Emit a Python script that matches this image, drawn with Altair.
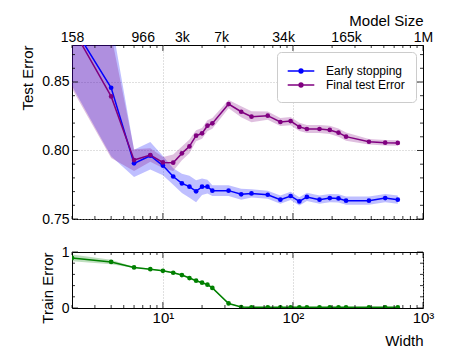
import altair as alt
import pandas as pd

# ---------------- data ----------------
widths = [2, 4, 6, 8, 10, 12, 14, 16, 18, 20, 22, 24, 32, 40, 48, 64, 80, 96,
          112, 128, 160, 192, 224, 256, 384, 512, 640]
early_mean = [0.892, 0.8458, 0.7906, 0.7962, 0.789, 0.781, 0.776, 0.7736, 0.7702,
              0.7736, 0.7736, 0.7707, 0.7707, 0.768, 0.7687, 0.7677, 0.7641, 0.7668,
              0.7628, 0.7661, 0.7641, 0.7653, 0.765, 0.7634, 0.7634, 0.7653, 0.7641]
early_std = [0.045, 0.05, 0.01, 0.01, 0.007, 0.006, 0.007, 0.008, 0.008, 0.006,
             0.005, 0.004, 0.004, 0.004, 0.003, 0.003, 0.003, 0.003, 0.003, 0.003,
             0.003, 0.003, 0.003, 0.003, 0.003, 0.003, 0.003]
final_mean = [0.89, 0.8395, 0.793, 0.7967, 0.7913, 0.7911, 0.7979, 0.803, 0.8108,
              0.8125, 0.8181, 0.8198, 0.8339, 0.8283, 0.8247, 0.8254, 0.8208, 0.8215,
              0.8172, 0.8157, 0.8157, 0.815, 0.813, 0.8101, 0.8064, 0.8057, 0.8055]
final_std = [0.045, 0.045, 0.008, 0.005, 0.004, 0.006, 0.005, 0.005, 0.004, 0.004,
             0.004, 0.004, 0.003, 0.004, 0.004, 0.003, 0.003, 0.003, 0.003, 0.003,
             0.003, 0.003, 0.003, 0.003, 0.002, 0.002, 0.002]
train_mean = [0.894, 0.823, 0.724, 0.694, 0.664, 0.629, 0.588, 0.535, 0.488, 0.452,
              0.417, 0.359, 0.081, 0.018, 0.012, 0.012, 0.012, 0.012, 0.012, 0.012,
              0.012, 0.012, 0.012, 0.012, 0.012, 0.012, 0.012]
train_std = [0.06, 0.04, 0.01, 0.01, 0.01, 0.01, 0.01, 0.01, 0.01, 0.01, 0.01, 0.01,
             0.01, 0.005, 0.003, 0.003, 0.003, 0.003, 0.003, 0.003, 0.003, 0.003,
             0.003, 0.003, 0.003, 0.003, 0.003]

series_names = ["Early stopping", "Final test Error"]
series_colors = ["#0000ff", "#800080"]
train_color = "#008000"

size_tick_pos = [2, 7, 14, 28, 84, 256, 1000]
size_tick_labels = ["158", "966", "3k", "7k", "34k", "165k", "1M"]
width_tick_pos = [10, 100, 1000]
width_tick_labels = ["10¹", "10²", "10³"]
x_major = [10, 100, 1000]
x_minor = [2, 3, 4, 5, 6, 7, 8, 9, 20, 30, 40, 50, 60, 70, 80, 90,
           200, 300, 400, 500, 600, 700, 800, 900]
test_y_major = [0.75, 0.80, 0.85]
test_y_minor = [0.76, 0.77, 0.78, 0.79, 0.81, 0.82, 0.83, 0.84, 0.86, 0.87]
train_y_major = [0, 1]
train_y_minor = [0.2, 0.4, 0.6, 0.8]

# ---------------- tables ----------------
test_df = pd.concat([
    pd.DataFrame({"w": widths, "series": series_names[0], "m": early_mean,
                  "lo": [a - b for a, b in zip(early_mean, early_std)],
                  "hi": [a + b for a, b in zip(early_mean, early_std)]}),
    pd.DataFrame({"w": widths, "series": series_names[1], "m": final_mean,
                  "lo": [a - b for a, b in zip(final_mean, final_std)],
                  "hi": [a + b for a, b in zip(final_mean, final_std)]}),
])
train_df = pd.DataFrame({"w": widths, "m": train_mean,
                         "lo": [a - b for a, b in zip(train_mean, train_std)],
                         "hi": [a + b for a, b in zip(train_mean, train_std)]})

W, H1, H2 = 351, 174, 56
FONT = "Liberation Sans"
xscale = alt.Scale(type="log", domain=[2, 1000], nice=False)
y1scale = alt.Scale(domain=[0.75, 0.877], nice=False, zero=False)
y2scale = alt.Scale(domain=[0, 1], nice=False, zero=False)
color_scale = alt.Scale(domain=series_names, range=series_colors)


def label_expr(pos, labels):
    expr = "''"
    for p, l in reversed(list(zip(pos, labels))):
        expr = f"datum.value == {p} ? '{l}' : ({expr})"
    return expr


grid_kw = dict(grid=True, gridDash=[1, 2], gridColor="#b0b0b0", gridWidth=0.8)


def tick_layers(yscale, H, ymaj, ymin, xaxis, yaxis):
    layers = []
    for vals, ln in ((x_major, 6), (x_minor, 3)):
        d = pd.DataFrame({"v": vals})
        base = alt.Chart(d).mark_rule(color="black", strokeWidth=0.8)
        layers.append(base.encode(x=alt.X("v:Q", scale=xscale, axis=xaxis),
                                  y=alt.value(H), y2=alt.value(H - ln)))
        layers.append(base.encode(x=alt.X("v:Q", scale=xscale, axis=xaxis),
                                  y=alt.value(0), y2=alt.value(ln)))
    for vals, ln in ((ymaj, 6), (ymin, 3)):
        d = pd.DataFrame({"v": vals})
        base = alt.Chart(d).mark_rule(color="black", strokeWidth=0.8)
        layers.append(base.encode(y=alt.Y("v:Q", scale=yscale, axis=yaxis),
                                  x=alt.value(0), x2=alt.value(ln)))
        layers.append(base.encode(y=alt.Y("v:Q", scale=yscale, axis=yaxis),
                                  x=alt.value(W), x2=alt.value(W - ln)))
    return layers


# ---------------- main panel ----------------
main_x_axis = alt.Axis(orient="bottom", values=[10, 100], labels=False, ticks=False,
                       domain=False, title=None, labelPadding=0, **grid_kw)
top_axis = alt.Axis(orient="top", values=size_tick_pos,
                    labelExpr=label_expr(size_tick_pos, size_tick_labels),
                    title="Model Size", titleAnchor="end", titleFontSize=15,
                    titleFontWeight="normal", titlePadding=2,
                    ticks=False, domain=False, grid=False, labelFlush=False,
                    labelOverlap=False, labelPadding=1, labelFontSize=14)
main_y_axis = alt.Axis(values=test_y_major, format=".2f", title="Test Error",
                       titleAnchor="end", titleFontSize=15, titleFontWeight="normal",
                       titlePadding=6, ticks=False, domain=False, labelPadding=3,
                       labelFontSize=14, **grid_kw)

bands = []
for name, col in zip(series_names, series_colors):
    bands.append(
        alt.Chart(test_df).transform_filter(alt.datum.series == name)
        .mark_area(opacity=0.25, clip=True, color=col)
        .encode(x=alt.X("w:Q", scale=xscale,
                        axis=main_x_axis if name == series_names[0] else None),
                y=alt.Y("lo:Q", scale=y1scale, axis=main_y_axis),
                y2="hi:Q")
    )

# legend symbol: a short line with a dot, drawn only with strokes
half = 1.9
sym = f"M{-half},0L{half},0"
for r in (0.08, 0.17, 0.27):
    sym += f"M{-r},0A{r},{r} 0 1,0 {r},0A{r},{r} 0 1,0 {-r},0"

lines = alt.Chart(test_df).mark_line(clip=True, strokeWidth=1.5).encode(
    x=alt.X("w:Q", scale=xscale, axis=None),
    y=alt.Y("m:Q", scale=y1scale, axis=main_y_axis),
    color=alt.Color("series:N", scale=color_scale, sort=series_names,
                    legend=alt.Legend(title=None, orient="top-right", offset=7,
                                      symbolType=sym, symbolSize=196,
                                      symbolStrokeWidth=1.5, labelFontSize=12,
                                      labelOffset=17, fillColor="white",
                                      strokeColor="#cccccc", cornerRadius=4,
                                      padding=11, rowPadding=0, symbolOffset=5)),
)
points = alt.Chart(test_df).mark_point(clip=True, filled=True, size=22, opacity=1).encode(
    x=alt.X("w:Q", scale=xscale, axis=None),
    y=alt.Y("m:Q", scale=y1scale, axis=main_y_axis),
    color=alt.Color("series:N", scale=color_scale, legend=None),
)
top_axis_layer = alt.Chart(pd.DataFrame({"v": size_tick_pos})).mark_rule(opacity=0).encode(
    x=alt.X("v:Q", scale=xscale, axis=top_axis),
)

main = alt.layer(*bands, lines, points, top_axis_layer,
                 *tick_layers(y1scale, H1, test_y_major, test_y_minor, None, main_y_axis)
                 ).resolve_axis(x="independent").properties(width=W, height=H1)

# ---------------- train panel ----------------
bot_x_axis = alt.Axis(orient="bottom", values=width_tick_pos,
                      labelExpr=label_expr(width_tick_pos, width_tick_labels),
                      title="Width", titleAnchor="end", titleFontSize=15,
                      titleFontWeight="normal", titlePadding=8, ticks=False,
                      domain=False, labelFlush=False, labelOverlap=False,
                      labelPadding=2, labelFontSize=15, **grid_kw)
bot_y_axis = alt.Axis(values=train_y_major, format="d", title="Train Error",
                      titleAnchor="end", titleFontSize=15, titleFontWeight="normal",
                      titlePadding=6, ticks=False, domain=False, grid=False,
                      labelPadding=3, labelFontSize=14)

tband = alt.Chart(train_df).mark_area(opacity=0.25, color=train_color, clip=True).encode(
    x=alt.X("w:Q", scale=xscale, axis=bot_x_axis),
    y=alt.Y("lo:Q", scale=y2scale, axis=bot_y_axis),
    y2="hi:Q",
)
tline = alt.Chart(train_df).mark_line(color=train_color, strokeWidth=1.5, clip=True).encode(
    x=alt.X("w:Q", scale=xscale, axis=bot_x_axis),
    y=alt.Y("m:Q", scale=y2scale, axis=bot_y_axis),
)
tpts = alt.Chart(train_df).mark_point(color=train_color, filled=True, size=22,
                                      opacity=1, clip=True).encode(
    x=alt.X("w:Q", scale=xscale, axis=bot_x_axis),
    y=alt.Y("m:Q", scale=y2scale, axis=bot_y_axis),
)
bottom = alt.layer(tband, tline, tpts,
                   *tick_layers(y2scale, H2, train_y_major, train_y_minor,
                                bot_x_axis, bot_y_axis)
                   ).properties(width=W, height=H2)

chart = alt.vconcat(main, bottom, spacing=17).properties(
    padding={"left": 12, "top": 4, "right": 5, "bottom": 5}
).configure(font=FONT).configure_view(stroke="black", strokeWidth=1).configure_axis(
    labelColor="black", titleColor="black", labelFont=FONT, titleFont=FONT
).configure_legend(labelFont=FONT, labelColor="black")

chart.save("out.html", embed_options={"renderer": "svg", "actions": False})
